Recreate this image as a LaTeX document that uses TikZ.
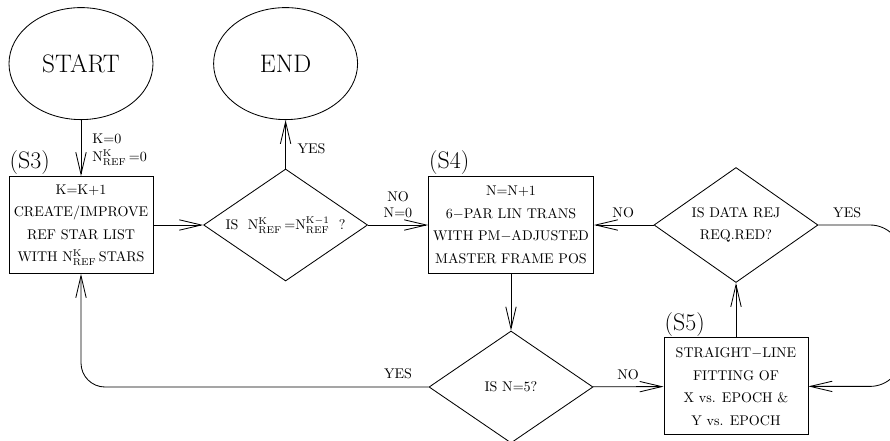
\documentclass[tikz,border=0pt]{standalone}
\usepackage{tikz}
\usepackage{amsmath}
\usetikzlibrary{arrows.meta, positioning, shapes.geometric}

\newcommand{\nref}[1]{\ensuremath{\mathrm{N}^{\mathrm{#1}}_{\mathrm{REF}}}}

\begin{document}
\begin{tikzpicture}[>={Straight Barb[length=5.5mm, width=2.6mm]}, line width=0.6pt,
  font=\fontsize{10}{16}\selectfont,
  term/.style={ellipse, draw, minimum width=3.6cm, minimum height=2.8cm, inner sep=0pt, font=\fontsize{18}{20}\selectfont},
  stepbox/.style={rectangle, draw, align=center, inner sep=0pt, minimum height=2.425cm},
  cond/.style={diamond, draw, align=center, inner sep=0pt, shape aspect=1.46, minimum width=4.1cm, minimum height=2.8cm},
  tag/.style={font=\fontsize{17}{18}\selectfont, inner sep=0.5pt, anchor=south west},
  lbl/.style={font=\fontsize{10}{11}\selectfont, inner sep=0pt}]

  \useasboundingbox (0,0) rectangle (22.25,-11.025);
  \clip (0,0) rectangle (22.25,-11.025);

  % Start / end
  \node[term] (start) at (2.025,-1.59) {START};
  \node[term] (stop) at (7.14,-1.59) {END};

  % Upper row
  \node[stepbox, minimum width=3.6cm] (s3) at (2.025,-5.625) {K=K+1\\CREATE/IMPROVE\\REF STAR LIST\\WITH \nref{K}\,STARS};
  \node[cond] (same) at (7.14,-5.625) {IS\ \ \nref{K}\,=\nref{K-1}\ \ ?};
  \node[stepbox, minimum width=4.125cm] (s4) at (12.775,-5.625) {N=N+1\\6$-$PAR LIN TRANS\\WITH PM$-$ADJUSTED\\MASTER FRAME POS};
  \node[cond, minimum height=2.875cm] (rej) at (18.4,-5.625) {IS DATA REJ\\REQ.RED?};

  % Lower row
  \node[cond] (five) at (12.775,-9.675) {IS N=5?};
  \node[stepbox, minimum width=3.6cm] (s5) at (18.4,-9.66) {STRAIGHT$-$LINE\\FITTING OF\\X vs. EPOCH \&\\Y vs. EPOCH};

  % Step tags
  \foreach \s/\t in {s3/S3, s4/S4, s5/S5}
    \node[tag] (\s-tag) at (\s.north west) {(\t)};

  % Connectors
  \draw[->] (start) -- (s3);
  \draw[->] (s3) -- (same);
  \draw[->] (same) -- (stop);
  \draw[->] (same) -- (s4);
  \draw[->] (rej) -- (s4);
  \draw[->] (s4) -- (five);
  \draw[->] (five) -- (s5);
  \draw[->] (s5) -- (rej);
  \draw[->, rounded corners=0.6cm] (five.west) -| (s3.south);
  \coordinate (loop) at (22.55,-5.625);
  \draw[->, rounded corners=0.8cm] (rej.east) -- (loop) |- (s5.east);

  % Branch labels
  \node[lbl, anchor=west] (k0) at (2.3,-3.48) {K=0};
  \node[lbl, anchor=west] (n0) at (2.3,-3.95) {\nref{K}\,=0};
  \node[lbl, anchor=west] (yes1) at (7.43,-3.72) {YES};
  \node[lbl] (no1) at (9.95,-4.925) {NO};
  \node[lbl] (n0b) at (9.95,-5.325) {N=0};
  \node[lbl] (no2) at (15.58,-5.325) {NO};
  \node[lbl] (yes2) at (21.18,-5.325) {YES};
  \node[lbl] (yes3) at (9.95,-9.33) {YES};
  \node[lbl] (no3) at (15.7,-9.375) {NO};
\end{tikzpicture}
\end{document}
